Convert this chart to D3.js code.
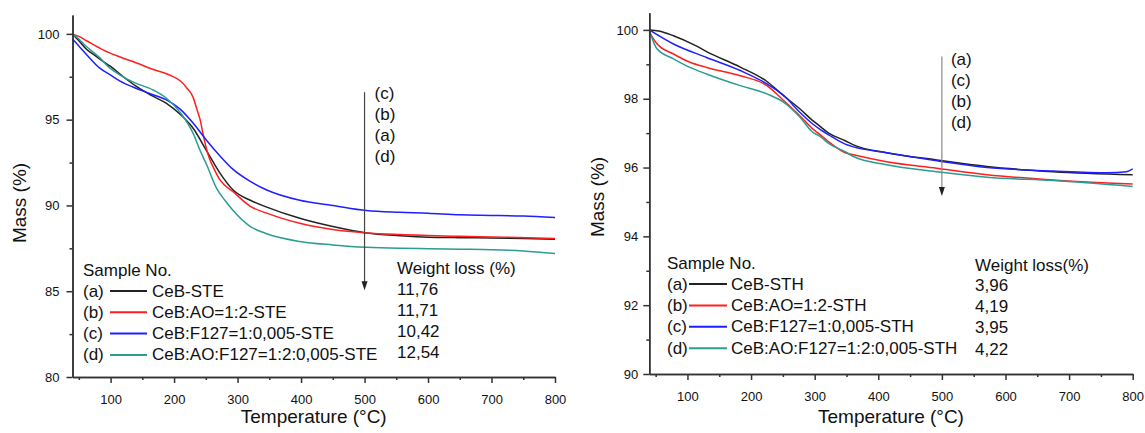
<!DOCTYPE html>
<html lang="en">
<head>
    <meta charset="UTF-8">
    <title>TGA curves</title>
    <script src="https://d3js.org/d3.v7.min.js"></script>
    <style>
        body { margin: 0; background: #fff; }
        text { font-family: "Liberation Sans", Arial, sans-serif; fill: #111; }
    </style>
</head>
<body>
<script>

// ---- data: [temperature (°C), mass (%)] ----
var steA = [[40,100],[50,99.6],[62,99.1],[75,98.75],[88,98.4],[100,98.1],[120,97.5],[140,96.95],[165,96.4],[188,95.95],[210,95.3],[230,94.5],[251,93.2],[272,91.9],[293,90.9],[320,90.3],[346,89.9],[398,89.25],[450,88.77],[503,88.4],[556,88.24],[600,88.15],[650,88.12],[700,88.1],[750,88.07],[800,88.03]];
var steB = [[40,100],[50,99.85],[62,99.6],[88,99.07],[115,98.65],[141,98.3],[165,97.95],[193,97.6],[210,97.25],[220,96.85],[230,96.3],[236,95.6],[241,95.0],[246,94.1],[251,93.3],[256,92.7],[262,92.2],[272,91.5],[293,90.8],[320,89.95],[346,89.55],[398,88.96],[450,88.6],[503,88.4],[556,88.3],[650,88.2],[720,88.15],[800,88.08]];
var steC = [[40,99.7],[50,99.3],[62,98.8],[83,98.0],[100,97.6],[115,97.25],[135,96.9],[167,96.45],[188,96.15],[210,95.6],[230,94.8],[251,93.8],[272,92.9],[293,92.1],[320,91.4],[346,90.9],[398,90.3],[450,90.0],[503,89.7],[556,89.6],[600,89.55],[650,89.45],[700,89.42],[750,89.38],[800,89.3]];
var steD = [[40,100],[50,99.7],[62,99.26],[83,98.6],[99,98.0],[115,97.6],[135,97.2],[167,96.73],[188,96.25],[210,95.4],[230,94.2],[241,93.2],[251,92.4],[267,91.0],[280,90.3],[293,89.7],[319,88.8],[346,88.35],[398,87.9],[450,87.7],[503,87.56],[556,87.5],[600,87.48],[650,87.45],[700,87.42],[750,87.35],[800,87.2]];

var sthA = [[40,100],[55,99.97],[78,99.83],[112,99.55],[130,99.37],[183,98.92],[225,98.5],[251,98.09],[277,97.7],[296,97.38],[309,97.19],[322,97.0],[348,96.78],[361,96.66],[413,96.43],[492,96.22],[571,96.03],[675,95.88],[800,95.79]];
var sthB = [[40,99.93],[52,99.6],[78,99.3],[104,99.06],[130,98.91],[183,98.67],[225,98.38],[251,97.95],[277,97.5],[296,97.14],[309,96.95],[322,96.75],[348,96.43],[361,96.37],[413,96.17],[492,95.98],[571,95.79],[675,95.64],[800,95.52]];
var sthC = [[40,100],[78,99.59],[130,99.2],[183,98.82],[225,98.43],[251,98.1],[277,97.6],[296,97.28],[309,97.1],[322,96.95],[348,96.68],[361,96.6],[413,96.43],[492,96.2],[571,96.0],[675,95.9],[760,95.85],[790,95.88],[800,95.96]];
var sthD = [[40,100],[52,99.45],[78,99.16],[104,98.91],[130,98.72],[183,98.38],[225,98.14],[251,97.9],[277,97.46],[296,97.04],[309,96.9],[322,96.7],[348,96.46],[361,96.32],[413,96.08],[492,95.88],[571,95.72],[675,95.62],[800,95.45]];

var sampleIds = ["(a)", "(b)", "(c)", "(d)"];
var steNames = ["CeB-STE", "CeB:AO=1:2-STE", "CeB:F127=1:0,005-STE", "CeB:AO:F127=1:2:0,005-STE"];
var sthNames = ["CeB-STH", "CeB:AO=1:2-STH", "CeB:F127=1:0,005-STH", "CeB:AO:F127=1:2:0,005-STH"];
var steLoss = ["11,76", "11,71", "10,42", "12,54"];
var sthLoss = ["3,96", "4,19", "3,95", "4,22"];
var steOrder = ["(c)", "(b)", "(a)", "(d)"];
var sthOrder = ["(a)", "(c)", "(b)", "(d)"];

var xTicks = [100, 200, 300, 400, 500, 600, 700, 800];
var xMinor = [50, 150, 250, 350, 450, 550, 650, 750];
var steYTicks = [80, 85, 90, 95, 100];
var steYMinor = [82.5, 87.5, 92.5, 97.5];
var sthYTicks = [90, 92, 94, 96, 98, 100];
var sthYMinor = [91, 93, 95, 97, 99];

var colors = ["#222222", "#ff1f1f", "#1f1fff", "#2b9c93"];

var svg = d3.select("body").append("svg")
    .attr("width", 1145)
    .attr("height", 433);

function drawPanel(p) {
    var x = d3.scaleLinear().domain([40, 800]).range(p.xRange);
    var y = d3.scaleLinear().domain(p.yDomain).range(p.yRange);
    var g = svg.append("g");

    // curves
    var line = d3.line()
        .x(function(d) { return x(d[0]); })
        .y(function(d) { return y(d[1]); })
        .curve(d3.curveMonotoneX);
    p.series.forEach(function(s, i) {
        g.append("path")
            .attr("d", line(s))
            .attr("fill", "none")
            .attr("stroke", colors[i])
            .attr("stroke-width", 1.5);
    });

    // axes
    g.append("g")
        .attr("transform", "translate(0," + p.yRange[0] + ")")
        .call(d3.axisBottom(x).tickValues(xTicks).tickSize(6).tickPadding(12).tickSizeOuter(0));
    g.append("g")
        .attr("transform", "translate(0," + p.yRange[0] + ")")
        .call(d3.axisBottom(x).tickValues(xMinor).tickSize(3).tickFormat("").tickSizeOuter(0));
    g.append("g")
        .attr("transform", "translate(" + p.xRange[0] + ",0)")
        .call(d3.axisLeft(y).tickValues(p.yTicks).tickSize(6).tickPadding(p.yPad).tickSizeOuter(0));
    g.append("g")
        .attr("transform", "translate(" + p.xRange[0] + ",0)")
        .call(d3.axisLeft(y).tickValues(p.yMinor).tickSize(3).tickFormat("").tickSizeOuter(0));
    g.selectAll(".domain, .tick line").attr("stroke", "#333").attr("stroke-width", 1.5);
    g.selectAll(".tick text").style("font-size", "13px").style("font-family", "'Liberation Sans', Arial, sans-serif").attr("fill", "#111");

    // axis titles
    g.append("text")
        .attr("x", (p.xRange[0] + p.xRange[1]) / 2)
        .attr("y", 416)
        .attr("text-anchor", "middle")
        .attr("dominant-baseline", "central")
        .style("font-size", "19px")
        .text("Temperature (°C)");
    g.append("text")
        .attr("transform", "translate(" + p.yTitleX + "," + p.yTitleY + ") rotate(-90)")
        .attr("text-anchor", "middle")
        .attr("dominant-baseline", "central")
        .style("font-size", "19px")
        .text("Mass (%)");

    // arrow with order labels
    var ax = x(500);
    g.append("line")
        .attr("x1", ax).attr("x2", ax)
        .attr("y1", y(p.arrow[0])).attr("y2", y(p.arrow[1]) - 8)
        .attr("stroke", p.arrowColor).attr("stroke-width", 1.2);
    var ay = y(p.arrow[1]);
    g.append("path")
        .attr("d", "M" + (ax - 3) + "," + (ay - 9) + "L" + (ax + 3) + "," + (ay - 9) + "L" + ax + "," + ay + "Z")
        .attr("fill", "#222");
    g.selectAll(".order").data(p.order).enter().append("text")
        .attr("x", ax + p.orderDx)
        .attr("y", function(d, i) { return p.orderY + i * 21.3; })
        .attr("dominant-baseline", "central")
        .style("font-size", "17px")
        .text(function(d) { return d; });

    // legend
    var L = p.legend;
    g.append("text").attr("x", L.x).attr("y", L.y0).attr("dominant-baseline", "central")
        .style("font-size", "17px").text("Sample No.");
    g.append("text").attr("x", L.lossX).attr("y", L.lossY0).attr("dominant-baseline", "central")
        .style("font-size", "17px").text(L.lossTitle);
    sampleIds.forEach(function(id, i) {
        var ry = L.y1 + i * L.dy;
        g.append("text").attr("x", L.x).attr("y", ry).attr("dominant-baseline", "central")
            .style("font-size", "17px").text(id);
        g.append("line").attr("x1", L.lineX[0]).attr("x2", L.lineX[1]).attr("y1", ry).attr("y2", ry)
            .attr("stroke", colors[i]).attr("stroke-width", 2);
        g.append("text").attr("x", L.textX).attr("y", ry).attr("dominant-baseline", "central")
            .style("font-size", "17px").text(p.names[i]);
        g.append("text").attr("x", L.lossX).attr("y", L.lossY1 + i * L.dy).attr("dominant-baseline", "central")
            .style("font-size", "17px").text(p.loss[i]);
    });
}

drawPanel({
    series: [steA, steB, steC, steD],
    names: steNames, loss: steLoss, order: steOrder,
    xRange: [72.5, 555], yDomain: [80, 101.1], yRange: [377, 15],
    yTicks: steYTicks, yMinor: steYMinor, yPad: 7,
    yTitleX: 19, yTitleY: 203,
    arrow: [96.6, 85.06], arrowColor: "#444", orderDx: 10, orderY: 93,
    legend: { x: 83, y0: 270, y1: 291, dy: 21.3, lineX: [110, 147], textX: 152,
              lossX: 397, lossY0: 268, lossY1: 289, lossTitle: "Weight loss (%)" }
});

drawPanel({
    series: [sthA, sthB, sthC, sthD],
    names: sthNames, loss: sthLoss, order: sthOrder,
    xRange: [649.3, 1132.7], yDomain: [90, 100.5], yRange: [374, 12.7],
    yTicks: sthYTicks, yMinor: sthYMinor, yPad: 5,
    yTitleX: 597, yTitleY: 197,
    arrow: [99.23, 95.17], arrowColor: "#888", orderDx: 9, orderY: 59,
    legend: { x: 667, y0: 263, y1: 284, dy: 21.4, lineX: [689, 727], textX: 731,
              lossX: 975, lossY0: 265, lossY1: 285, lossTitle: "Weight loss(%)" }
});
</script>
</body>
</html>
